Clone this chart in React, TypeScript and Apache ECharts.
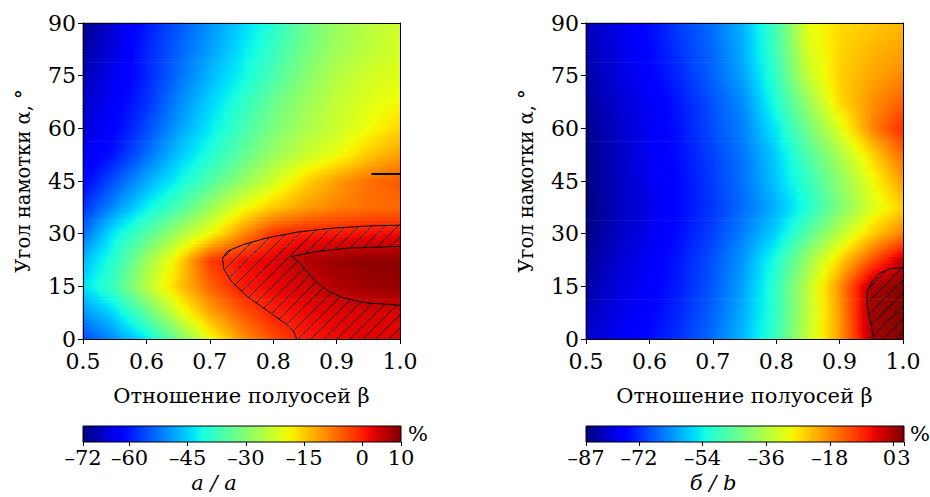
import React, { useEffect, useRef } from 'react';
import * as echarts from 'echarts';

// ---------- data ----------
const betaValues = [0.5, 0.55, 0.6, 0.65, 0.7, 0.75, 0.8, 0.85, 0.9, 0.95, 1.0];
const alphaValues = [0, 7.5, 15, 22.5, 30, 37.5, 45, 52.5, 60, 67.5, 75, 82.5, 90];

// rows follow alphaValues (bottom to top), columns follow betaValues
const ratioA = [
  [-56, -50, -43, -32, -20, -10.5, -4, 0.5, 2, 3, 3],
  [-50, -44, -34, -22, -12, -5, 0, 2, 3, 3.5, 3.5],
  [-44, -37, -25, -15, -6, 0.5, 2.5, 4, 6.5, 8, 8.5],
  [-47, -39, -28, -17, -2.5, 1.5, 3, 6.5, 8, 9, 9],
  [-53, -42.5, -35, -27, -19.5, -10, -1.5, 0.5, 1, 1.5, 2],
  [-58, -50, -42.5, -36, -28, -20, -15, -11, -8.5, -7, -6.5],
  [-62, -55, -48, -42, -35.5, -29, -22.5, -16, -11, -7, -5],
  [-64, -60, -53, -46, -40, -34, -28, -23.5, -20, -15, -11],
  [-66, -62, -56, -49, -43, -37, -31, -26.5, -23, -19.5, -16],
  [-67, -63, -58, -51, -45, -39, -33, -28, -24, -21, -19],
  [-68, -64, -59, -53, -47, -42, -36, -30, -25.5, -22.5, -21],
  [-70, -65, -59, -54, -49, -43.5, -38, -32, -27.5, -24.5, -22],
  [-71, -66, -60, -55, -50, -45, -39.5, -33, -28, -25, -22.5],
];

const ratioB = [
  [-81, -78, -75, -71, -66, -59, -49, -34, -20, -0.5, 3],
  [-82.5, -79, -76, -72, -67, -60, -50, -35, -20, 0.5, 2.5],
  [-84, -80, -77, -73, -68, -61, -50, -35, -19, 0, 2.5],
  [-85.5, -81, -77.5, -73.5, -68.5, -62, -52, -38.5, -25.5, -13, -1.5],
  [-86.5, -82, -78.5, -74.5, -70, -64, -57, -46, -35, -25, -17],
  [-87, -82.5, -79, -75, -71, -66, -60, -52, -42, -32, -25],
  [-87, -82, -78.5, -75, -70.5, -65.5, -58, -50, -40, -30, -20],
  [-86.5, -82, -78, -74.5, -70, -65, -57.5, -47, -37, -26, -15],
  [-86, -81.5, -78, -74, -69, -64, -55, -43, -31.5, -18, -9],
  [-85, -81, -77.5, -73.5, -68.5, -63, -52, -39, -26, -19, -14],
  [-84, -80, -76.5, -72, -67, -61, -50, -34, -25, -21, -18],
  [-83, -79.5, -75.5, -71, -66.5, -60, -48.5, -32, -25.5, -22.5, -20.5],
  [-82.5, -79, -75, -70, -66, -59.5, -48, -30.5, -26, -24.5, -22.5],
];

const rangeA = [-72, 10];
const rangeB = [-87, 3];
const colorbarTicksA = [-72, -60, -45, -30, -15, 0, 10];
const colorbarTicksB = [-87, -72, -54, -36, -18, 0, 3];

// contour lines [beta, alpha]
const outerContourA = [
  [1.0, 32.4], [0.95, 32.2], [0.895, 31.6], [0.84, 30.5], [0.79, 28.8], [0.753, 26.9],
  [0.728, 25], [0.72, 23], [0.722, 20], [0.735, 16.2], [0.76, 12], [0.795, 7.5],
  [0.82, 4.3], [0.832, 2.2], [0.837, 0],
];
const innerTopA = [[0.829, 23.5], [0.868, 24.9], [0.921, 25.9], [1.0, 26.4]];
const innerBottomA = [
  [0.829, 23.5], [0.843, 21.5], [0.853, 19.3], [0.868, 16.4], [0.884, 14],
  [0.91, 11.7], [0.947, 10.3], [1.0, 9.6],
];
const shortContourA = [[0.955, 47], [1.0, 47]];
const contourB = [
  [1.0, 20.3], [0.98, 20], [0.964, 18.8], [0.951, 16.4], [0.944, 13.6],
  [0.943, 10.7], [0.946, 6.9], [0.951, 3.1], [0.954, 0],
];

const xAxisName = 'Отношение полуосей β';
const yAxisName = 'Угол намотки α, °';
const captions = ['а / a', 'б / b'];

// ---------- helpers ----------
const FONT = 'DejaVu Serif';
const JR = [[0, 0], [0.35, 0], [0.66, 1], [0.89, 1], [1, 0.5]];
const JG = [[0, 0], [0.125, 0], [0.375, 1], [0.64, 1], [0.91, 0], [1, 0]];
const JB = [[0, 0.5], [0.11, 1], [0.34, 1], [0.65, 0], [1, 0]];
function pw(pts: number[][], t: number) {
  for (let k = 1; k < pts.length; k++) {
    if (t <= pts[k][0]) {
      const [x0, y0] = pts[k - 1];
      const [x1, y1] = pts[k];
      return y0 + ((y1 - y0) * (t - x0)) / (x1 - x0);
    }
  }
  return pts[pts.length - 1][1];
}
function jet(t: number) {
  const u = Math.max(0, Math.min(1, t));
  return `rgb(${Math.round(255 * pw(JR, u))},${Math.round(255 * pw(JG, u))},${Math.round(255 * pw(JB, u))})`;
}
function makeCells(grid: number[][]) {
  const cells: number[][] = [];
  for (let j = 0; j < alphaValues.length - 1; j++) {
    for (let i = 0; i < betaValues.length - 1; i++) {
      cells.push([
        betaValues[i], alphaValues[j], betaValues[i + 1], alphaValues[j + 1],
        grid[j][i], grid[j][i + 1], grid[j + 1][i], grid[j + 1][i + 1],
      ]);
    }
  }
  return cells;
}
const fmtTick = (v: number) => (v < 0 ? '–' + Math.abs(v) : String(v));

export default function App() {
  const ref = useRef<HTMLDivElement>(null);
  useEffect(() => {
    if (!ref.current) return;
    const chart = echarts.init(ref.current, null, { renderer: 'svg' });

    const T = 13;
    const cv = document.createElement('canvas');
    cv.width = T;
    cv.height = T;
    const ctx = cv.getContext('2d')!;
    ctx.strokeStyle = '#000';
    ctx.lineWidth = 0.9;
    for (const k of [-T, 0, T]) {
      ctx.beginPath();
      ctx.moveTo(k, T);
      ctx.lineTo(k + T, 0);
      ctx.stroke();
    }
    const hatch: any = { image: cv, repeat: 'repeat', imageWidth: T, imageHeight: T };

    const heatRender = (range: number[]) => (params: any, api: any) => {
      const b0 = api.value(0), a0 = api.value(1), b1 = api.value(2), a1 = api.value(3);
      const v00 = api.value(4), v10 = api.value(5), v01 = api.value(6), v11 = api.value(7);
      const p0 = api.coord([b0, a0]);
      const p1 = api.coord([b1, a1]);
      const x = p0[0], w = p1[0] - p0[0];
      const yb = p0[1], hTot = p0[1] - p1[1];
      const K = 8, M = 5;
      const children: any[] = [];
      const span = range[1] - range[0];
      for (let s = 0; s < K; s++) {
        const f = (s + 0.5) / K;
        const vl = v00 + (v01 - v00) * f;
        const vr = v10 + (v11 - v10) * f;
        const stops = [];
        for (let m = 0; m < M; m++) {
          const o = m / (M - 1);
          stops.push({ offset: o, color: jet((vl + (vr - vl) * o - range[0]) / span) });
        }
        const h = hTot / K;
        const y = yb - (s + 1) * h;
        children.push({
          type: 'rect',
          shape: { x: x - 0.35, y: y - 0.35, width: w + 0.7, height: h + 0.7 },
          style: { fill: new echarts.graphic.LinearGradient(0, 0, 1, 0, stops) },
          silent: true,
        });
      }
      return { type: 'group', children };
    };

    const polyRender = (poly: number[][]) => (params: any, api: any) => ({
      type: 'polygon',
      shape: { points: poly.map((p) => api.coord(p)) },
      style: { fill: hatch, stroke: null },
      silent: true,
    });

    const barRender = (range: number[]) => (params: any, api: any) => {
      const a = api.coord([api.value(0), api.value(1)]);
      const b = api.coord([api.value(2), api.value(3)]);
      const stops = [];
      for (let m = 0; m <= 40; m++) stops.push({ offset: m / 40, color: jet(m / 40) });
      return {
        type: 'rect',
        shape: { x: a[0], y: b[1], width: b[0] - a[0], height: a[1] - b[1] },
        style: { fill: new echarts.graphic.LinearGradient(0, 0, 1, 0, stops), stroke: '#000', lineWidth: 1 },
        silent: true,
      };
    };

    const hatchPolyA = [...outerContourA, [1.0, 0], ...innerBottomA.slice().reverse(), ...innerTopA.slice(1)];
    const hatchPolyB = [...contourB, [1.0, 0]];
    const innerLineA = [...innerTopA.slice().reverse(), ...innerBottomA.slice(1)];

    const lbl = { fontFamily: FONT, fontSize: 22, color: '#000' };
    const cbl = { fontFamily: FONT, fontSize: 21, color: '#000' };
    const mainX = (gi: number) => ({
      type: 'value', gridIndex: gi, min: 0.5, max: 1.0, interval: 0.1, z: 10,
      name: xAxisName, nameLocation: 'middle', nameGap: 46,
      nameTextStyle: { fontFamily: FONT, fontSize: 21, color: '#000' },
      axisLine: { show: true, onZero: false, lineStyle: { color: '#000', width: 1 } },
      axisTick: { show: true, length: 5, lineStyle: { color: '#000' } },
      axisLabel: { ...lbl, margin: 11, formatter: (v: number) => v.toFixed(1) },
      splitLine: { show: false },
    });
    const mainY = (gi: number) => ({
      type: 'value', gridIndex: gi, min: 0, max: 90, interval: 15, z: 10,
      name: yAxisName, nameLocation: 'middle', nameGap: 50, nameRotate: 90,
      nameTextStyle: { fontFamily: FONT, fontSize: 19.5, color: '#000' },
      axisLine: { show: true, onZero: false, lineStyle: { color: '#000', width: 1 } },
      axisTick: { show: true, length: 5, lineStyle: { color: '#000' } },
      axisLabel: { ...lbl, margin: 7 },
      splitLine: { show: false },
    });
    const frameX = (gi: number) => ({
      type: 'value', gridIndex: gi, position: 'top', min: 0.5, max: 1.0, z: 10,
      axisLine: { show: true, onZero: false, lineStyle: { color: '#000', width: 1 } },
      axisTick: { show: false }, axisLabel: { show: false }, splitLine: { show: false },
    });
    const frameY = (gi: number) => ({
      type: 'value', gridIndex: gi, position: 'right', min: 0, max: 90, z: 10,
      axisLine: { show: true, onZero: false, lineStyle: { color: '#000', width: 1 } },
      axisTick: { show: false }, axisLabel: { show: false }, splitLine: { show: false },
    });
    const cbX = (gi: number, range: number[], ticks: number[], fmt: any, rich?: any) => ({
      type: 'value', gridIndex: gi, min: range[0], max: range[1], z: 10,
      axisLine: { show: false },
      axisTick: { show: true, customValues: ticks, length: 4, lineStyle: { color: '#000' } },
      axisLabel: { ...cbl, margin: 5, customValues: ticks, formatter: fmt, rich },
      splitLine: { show: false },
    });
    const cbY = (gi: number) => ({ type: 'value', gridIndex: gi, min: 0, max: 1, show: false });

    const fmtB = (v: number) => (v === 0 ? '{l|0}' : v === 3 ? '{r|3}' : fmtTick(v));
    const richB = {
      l: { ...cbl, padding: [0, 8, 0, 0] },
      r: { ...cbl },
    };

    const lineSeries = (data: number[][], xi: number, width = 1) => ({
      type: 'line', xAxisIndex: xi, yAxisIndex: xi, data, symbol: 'none', silent: true, z: 5,
      lineStyle: { color: '#000', width }, animation: false,
    });

    chart.setOption({
      animation: false,
      backgroundColor: '#fff',
      textStyle: { fontFamily: FONT },
      grid: [
        { left: 83, top: 23, width: 317, height: 316 },
        { left: 586, top: 23, width: 317, height: 316 },
        { left: 83, top: 426, width: 318, height: 16 },
        { left: 586, top: 426, width: 318, height: 16 },
      ],
      xAxis: [
        mainX(0), mainX(1),
        cbX(2, rangeA, colorbarTicksA, fmtTick),
        cbX(3, rangeB, colorbarTicksB, fmtB, richB),
        frameX(0), frameX(1),
      ],
      yAxis: [mainY(0), mainY(1), cbY(2), cbY(3), frameY(0), frameY(1)],
      series: [
        {
          type: 'custom', xAxisIndex: 0, yAxisIndex: 0, z: 1, silent: true,
          data: makeCells(ratioA), encode: { x: [0, 2], y: [1, 3] },
          renderItem: heatRender(rangeA),
        },
        {
          type: 'custom', xAxisIndex: 1, yAxisIndex: 1, z: 1, silent: true,
          data: makeCells(ratioB), encode: { x: [0, 2], y: [1, 3] },
          renderItem: heatRender(rangeB),
        },
        {
          type: 'custom', xAxisIndex: 0, yAxisIndex: 0, z: 3, silent: true,
          data: [[0.9, 10]], renderItem: polyRender(hatchPolyA),
        },
        {
          type: 'custom', xAxisIndex: 1, yAxisIndex: 1, z: 3, silent: true,
          data: [[0.97, 10]], renderItem: polyRender(hatchPolyB),
        },
        lineSeries(outerContourA, 0),
        lineSeries(innerLineA, 0),
        lineSeries(shortContourA, 0, 2),
        lineSeries(contourB, 1),
        {
          type: 'custom', xAxisIndex: 2, yAxisIndex: 2, silent: true,
          data: [[rangeA[0], 0, rangeA[1], 1]], encode: { x: [0, 2], y: [1, 3] },
          renderItem: barRender(rangeA),
        },
        {
          type: 'custom', xAxisIndex: 3, yAxisIndex: 3, silent: true,
          data: [[rangeB[0], 0, rangeB[1], 1]], encode: { x: [0, 2], y: [1, 3] },
          renderItem: barRender(rangeB),
        },
      ],
      graphic: [
        { type: 'text', left: 408, top: 423, style: { text: '%', font: `21px "${FONT}"`, fill: '#000' } },
        { type: 'text', left: 910, top: 423, style: { text: '%', font: `21px "${FONT}"`, fill: '#000' } },
        {
          type: 'text', x: 214, y: 483,
          style: { text: captions[0], font: `italic 21px "${FONT}"`, fill: '#000', align: 'center', verticalAlign: 'middle' },
        },
        {
          type: 'text', x: 713, y: 483,
          style: { text: captions[1], font: `italic 21px "${FONT}"`, fill: '#000', align: 'center', verticalAlign: 'middle' },
        },
      ],
    });
    return () => chart.dispose();
  }, []);

  return (
    <div
      ref={ref}
      style={{ position: 'fixed', left: 0, top: 0, width: 930, height: 497, background: '#fff' }}
    />
  );
}
